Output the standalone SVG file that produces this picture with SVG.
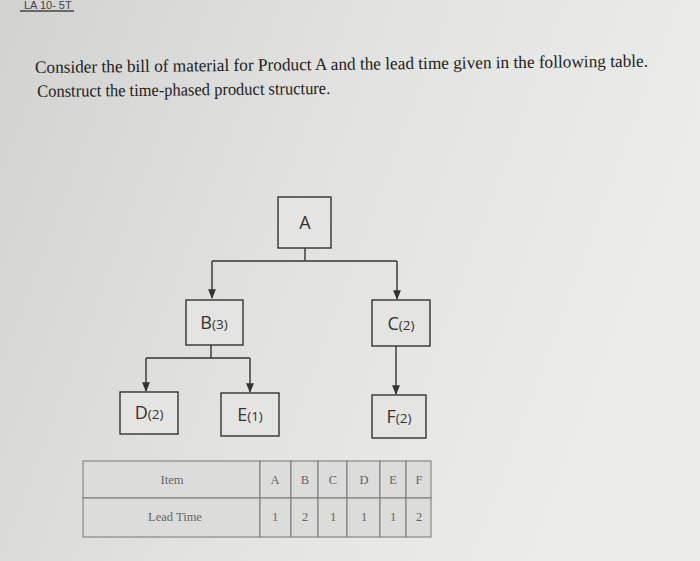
<svg xmlns="http://www.w3.org/2000/svg" width="700" height="561" viewBox="0 0 700 561">
<defs>
<linearGradient id="bg" x1="0" y1="0" x2="1" y2="0.3">
<stop offset="0" stop-color="#d2d2d0"/>
<stop offset="0.5" stop-color="#e2e2e0"/>
<stop offset="1" stop-color="#ececea"/>
</linearGradient>
<marker id="arr" viewBox="0 0 10 10" refX="9" refY="5" markerWidth="7" markerHeight="7" orient="auto">
<path d="M0,1 L10,5 L0,9 z" fill="#333"/>
</marker>
<style>
.box{fill:#e4e4e2;stroke:#333;stroke-width:1.4}
.lbl{font-family:"Open Sans","DejaVu Sans",sans-serif;font-size:18px;fill:#333;text-anchor:middle}
.sub{font-size:13.5px}
.con{fill:none;stroke:#333;stroke-width:1.4}
.q{font-family:"Liberation Serif",serif;font-size:17.5px;fill:#222}
.cell{fill:#dcdcda;stroke:#777;stroke-width:1}
.tt{font-family:"Liberation Serif",serif;font-size:12.5px;fill:#666;text-anchor:middle}
</style>
</defs>
<rect width="700" height="561" fill="url(#bg)"/>
<text x="24" y="9" font-family="Liberation Sans, sans-serif" font-size="11" fill="#444">LA 10- 5T</text>
<line x1="20" y1="11" x2="74" y2="11" stroke="#444" stroke-width="1.5"/>
<g transform="rotate(-0.6 35 70)">
<text class="q" x="35" y="73" textLength="613" lengthAdjust="spacingAndGlyphs">Consider the bill of material for Product A and the lead time given in the following table.</text>
<text class="q" x="37" y="97" textLength="293" lengthAdjust="spacingAndGlyphs">Construct the time-phased product structure.</text>
</g>
<g id="connectors">
<polyline class="con" points="305,248 305,261"/>
<polyline class="con" points="212,261 397,261"/>
<polyline class="con" points="212,261 212,298" marker-end="url(#arr)"/>
<polyline class="con" points="397,261 397,299" marker-end="url(#arr)"/>
<polyline class="con" points="211,345 211,358"/>
<polyline class="con" points="146,358 250,358"/>
<polyline class="con" points="146,358 146,391" marker-end="url(#arr)"/>
<polyline class="con" points="250,358 250,392" marker-end="url(#arr)"/>
<polyline class="con" points="396,346 396,394" marker-end="url(#arr)"/>
</g>
<g id="node-A"><rect class="box" x="278" y="197" width="53" height="51"/><text class="lbl" x="305" y="229" font-size="20">A</text></g>
<g id="node-B"><rect class="box" x="186" y="300" width="57" height="45"/><text class="lbl" x="214" y="329">B<tspan class="sub">(3)</tspan></text></g>
<g id="node-C"><rect class="box" x="372" y="300" width="58" height="46"/><text class="lbl" x="401" y="330">C<tspan class="sub">(2)</tspan></text></g>
<g id="node-D"><rect class="box" x="120" y="392" width="58" height="42"/><text class="lbl" x="149" y="419">D<tspan class="sub">(2)</tspan></text></g>
<g id="node-E"><rect class="box" x="221" y="393" width="58" height="43"/><text class="lbl" x="250" y="421">E<tspan class="sub">(1)</tspan></text></g>
<g id="node-F"><rect class="box" x="372" y="395" width="54" height="43"/><text class="lbl" x="399" y="423">F<tspan class="sub">(2)</tspan></text></g>
<g id="table">
<rect class="cell" x="83" y="461" width="177" height="37"/>
<rect class="cell" x="83" y="498" width="177" height="39"/>
<rect class="cell" x="260" y="461" width="31" height="37"/>
<rect class="cell" x="291" y="461" width="27" height="37"/>
<rect class="cell" x="318" y="461" width="29" height="37"/>
<rect class="cell" x="347" y="461" width="33" height="37"/>
<rect class="cell" x="380" y="461" width="26" height="37"/>
<rect class="cell" x="406" y="461" width="25" height="37"/>
<rect class="cell" x="260" y="498" width="31" height="39"/>
<rect class="cell" x="291" y="498" width="27" height="39"/>
<rect class="cell" x="318" y="498" width="29" height="39"/>
<rect class="cell" x="347" y="498" width="33" height="39"/>
<rect class="cell" x="380" y="498" width="26" height="39"/>
<rect class="cell" x="406" y="498" width="25" height="39"/>
<text class="tt" x="172" y="484">Item</text>
<text class="tt" x="175" y="521">Lead Time</text>
<text class="tt" x="275" y="484">A</text>
<text class="tt" x="305" y="484">B</text>
<text class="tt" x="333" y="484">C</text>
<text class="tt" x="364" y="484">D</text>
<text class="tt" x="393" y="484">E</text>
<text class="tt" x="419" y="484">F</text>
<text class="tt" x="275" y="521">1</text>
<text class="tt" x="305" y="521">2</text>
<text class="tt" x="333" y="521">1</text>
<text class="tt" x="364" y="521">1</text>
<text class="tt" x="393" y="521">1</text>
<text class="tt" x="419" y="521">2</text>
</g>
</svg>
